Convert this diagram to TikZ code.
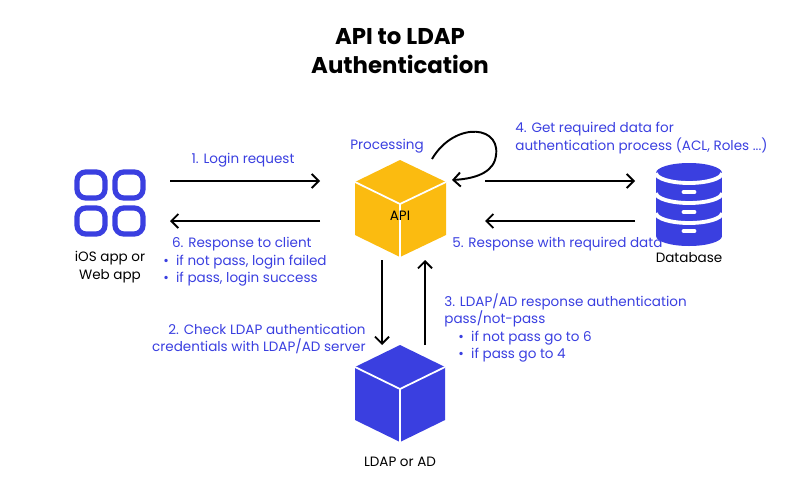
\documentclass[tikz,border=0pt]{standalone}
\usepackage{fontspec}
\setmainfont{Poppins}
\usetikzlibrary{arrows.meta}
\definecolor{bl}{HTML}{3A3FE0}
\definecolor{gold}{HTML}{FBBB10}
\begin{document}
\begin{tikzpicture}[x=0.02cm,y=-0.02cm,
  lbl/.style={text=bl,font=\fontsize{7.7}{10}\selectfont,inner sep=0},
  blk/.style={text=black,font=\fontsize{7.7}{10}\selectfont,inner sep=0},
  arr/.style={-{Straight Barb[length=4pt,width=8pt]},line width=1.1pt}]
\useasboundingbox (0,0) rectangle (800,480);
\node[font=\bfseries\fontsize{13}{16.5}\selectfont,align=center] (title) at (400,51) {API to LDAP\\Authentication};
% API cube
\begin{scope}[line join=round]
\fill[gold] (400,160)--(446,182)--(446,235)--(400,257)--(355,235)--(355,182)--cycle;
\draw[white,line width=1pt] (355,182)--(400,204)--(446,182) (400,204)--(400,257);
\end{scope}
\node[blk] (api) at (400,216) {API};
% LDAP cube
\fill[bl] (400,345)--(445,367)--(445,420)--(400,442)--(355,420)--(355,367)--cycle;
\draw[white,line width=1pt] (355,367)--(400,389)--(445,367) (400,389)--(400,442);
\node[blk] (ldap) at (400,462) {LDAP or AD};
% iOS icon
\foreach \x in {77,115}\foreach \y in {172,208}
  \draw[bl,line width=3pt,rounded corners=5pt] (\x,\y) rectangle ++(28,26);
\node[blk,align=center] (ios) at (110,267) {iOS app or\\Web app};
% Database
\begin{scope}
\fill[bl] (656,173) rectangle (722,236);
\fill[bl] (689,173) ellipse [x radius=33,y radius=10];
\fill[bl] (689,236) ellipse [x radius=33,y radius=10];
\foreach \y in {173,193,213} \draw[white,line width=2.2pt] (656,\y) arc[start angle=180,end angle=360,x radius=33,y radius=-10];
\foreach \y in {192,212,231} \draw[white,line width=2.8pt,line cap=round] (684,\y)--(694,\y);
\end{scope}
\node[blk] (db) at (689,258) {Database};
% coordinates
\coordinate (a1s) at (170,181); \coordinate (a1e) at (320,181);
\coordinate (a6s) at (320,221); \coordinate (a6e) at (170,221);
\coordinate (a4s) at (485,181); \coordinate (a4e) at (635,181);
\coordinate (a5s) at (635,221); \coordinate (a5e) at (485,221);
\coordinate (a2s) at (382,260); \coordinate (a2e) at (382,345);
\coordinate (a3s) at (425,345); \coordinate (a3e) at (425,260);
\coordinate (ls) at (432,159); \coordinate (le) at (452,180);
\draw[arr] (a1s)--(a1e);
\draw[arr] (a6s)--(a6e);
\draw[arr] (a4s)--(a4e);
\draw[arr] (a5s)--(a5e);
\draw[arr] (a2s)--(a2e);
\draw[arr] (a3s)--(a3e);
\draw[arr] (ls) .. controls (455,120) and (505,125) .. (495,160) .. controls (490,175) and (470,179) .. (le);
% labels
\node[lbl] (l1) at (243,160) {1. Login request};
\node[lbl] (proc) at (387,146) {Processing};
\node[lbl,anchor=west,align=left] (l4) at (515,138) {4. Get required data for\\authentication process (ACL, Roles ...)};
\node[lbl,anchor=north west,align=left] (l6) at (163,237) {\hspace*{5pt}6. Response to client\\ \textbullet\ \ if not pass, login failed\\ \textbullet\ \ if pass, login success};
\node[lbl,anchor=west] (l5) at (452,244) {5. Response with required data};
\node[lbl,anchor=east,align=right] (l2) at (366,339) {2. Check LDAP authentication\\credentials with LDAP/AD server};
\node[lbl,anchor=north west,align=left] (l3) at (444,293) {3. LDAP/AD response authentication\\pass/not-pass\\ \hspace*{8pt}\textbullet\ \ if not pass go to 6\\ \hspace*{8pt}\textbullet\ \ if pass go to 4};
\end{tikzpicture}
\end{document}
